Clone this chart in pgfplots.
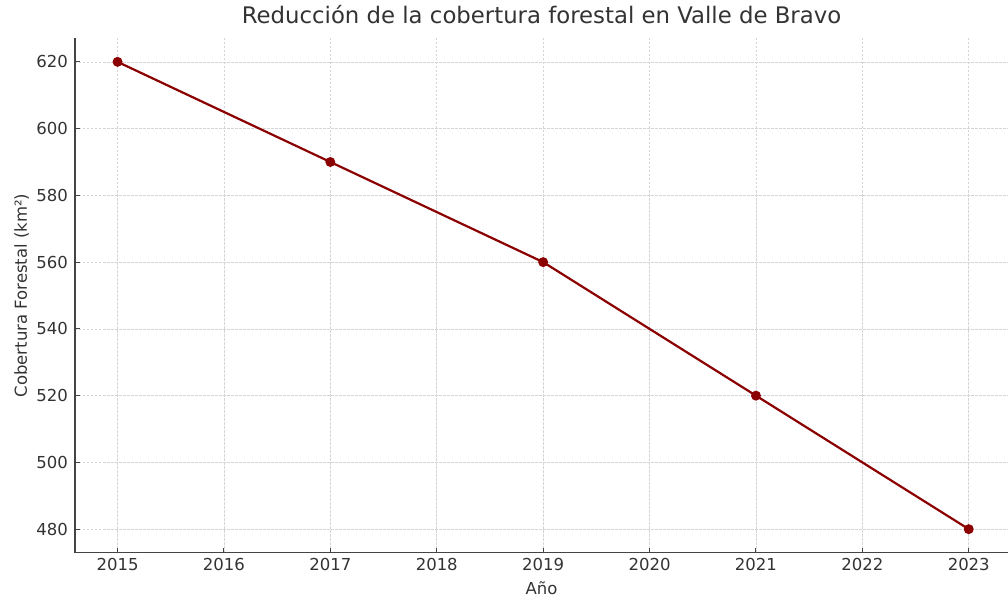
\documentclass[border=0pt]{standalone}
\usepackage{pgfplots}
\pgfplotsset{compat=1.18}
\usepackage{fontspec}
\setmainfont{DejaVu Sans}
\definecolor{txt}{HTML}{333333}
\definecolor{spine}{HTML}{444444}
\definecolor{gridc}{HTML}{D4D4D4}
\definecolor{linec}{HTML}{8B0000}
\begin{document}
\begin{tikzpicture}
\path[use as bounding box] (-75pt,-50.5pt) rectangle (933pt,552.5pt);
\begin{axis}[
  scale only axis,
  width=933pt, height=514pt,
  xmin=2014.6, xmax=2023.369,
  ymin=473, ymax=627,
  axis x line*=bottom, axis y line*=left,
  axis line style={spine, line width=1.3pt, -},
  xtick={2015,2016,2017,2018,2019,2020,2021,2022,2023},
  ytick={480,500,520,540,560,580,600,620},
  tick align=inside,
  major tick length=5pt,
  every tick/.style={spine, line width=1pt},
  /pgf/number format/assume math mode=true,
  /pgf/number format/1000 sep={},
  xticklabel style={inner sep=0pt, anchor=north, yshift=-5.5pt, text=txt, font=\fontsize{16.5}{19}\selectfont},
  yticklabel style={inner sep=0pt, anchor=east, xshift=-7pt, text=txt, font=\fontsize{16.5}{19}\selectfont},
  grid=major,
  major grid style={gridc, line width=0.7pt, dash pattern=on 2.5pt off 1.5pt},
  title={Reducción de la cobertura forestal en Valle de Bravo},
  title style={at={(0.5,1.01848)}, anchor=base, inner sep=0pt, text=txt, font=\fontsize{22.8}{27}\selectfont},
  xlabel={Año},
  xlabel style={at={(0.5,-0.0817)}, anchor=base, inner sep=0pt, text=txt, font=\fontsize{16.5}{19}\selectfont},
  ylabel={Cobertura Forestal (km²)},
  ylabel style={at={(-0.05145,0.5)}, anchor=base, inner sep=0pt, text=txt, font=\fontsize{16.5}{19}\selectfont},
]
\addplot[linec, line width=2.2pt, mark=*, mark size=3.8pt, mark options={fill=linec, draw=linec}] coordinates {
  (2015,620) (2017,590) (2019,560) (2021,520) (2023,480)
};
\end{axis}
\end{tikzpicture}
\end{document}
